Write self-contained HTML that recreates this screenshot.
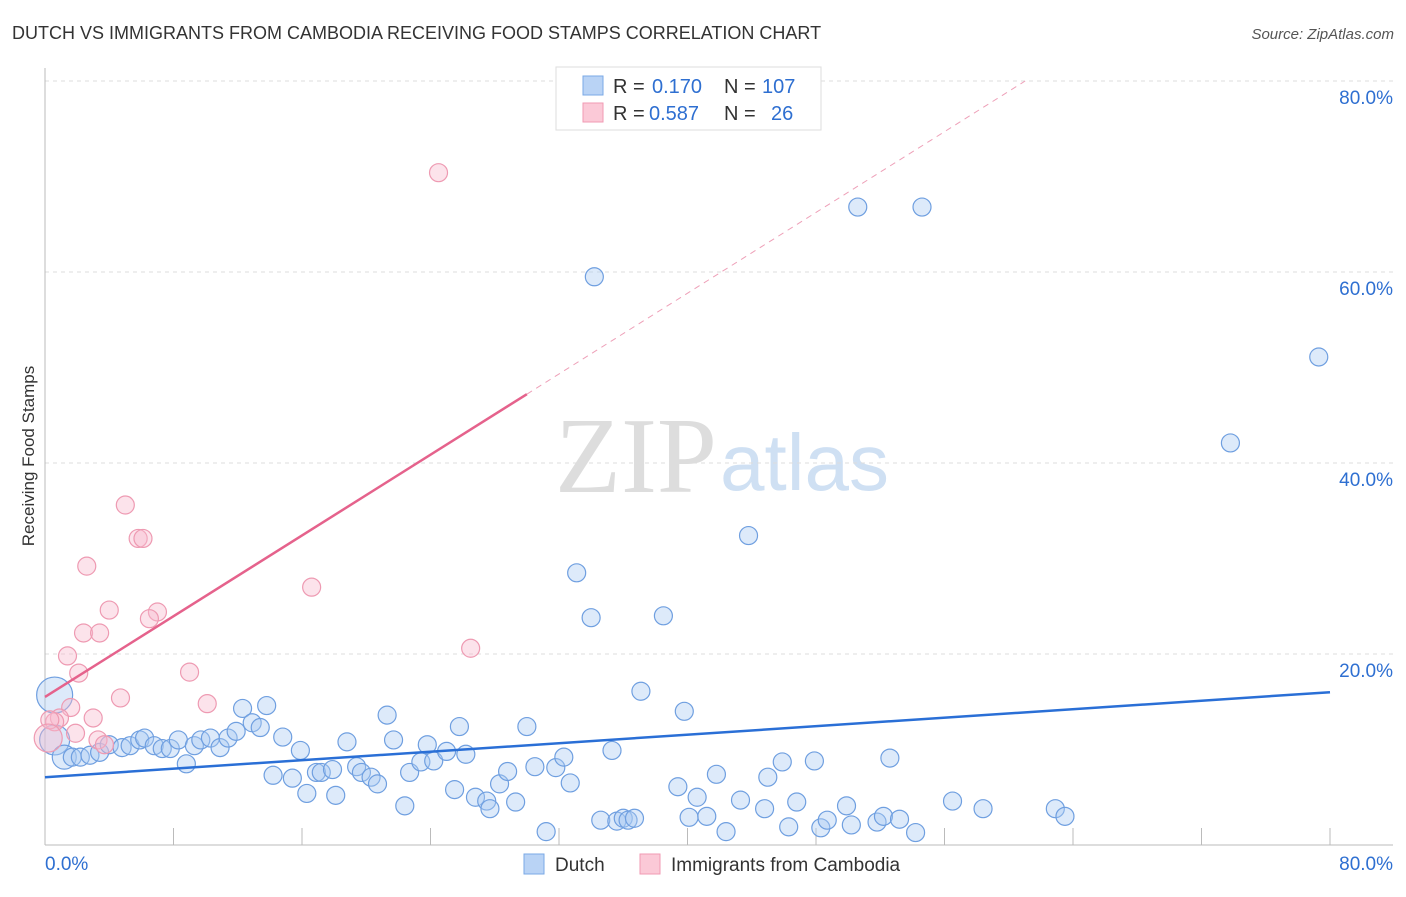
<!DOCTYPE html>
<html><head><meta charset="utf-8"><style>
body{margin:0;background:#fff;font-family:"Liberation Sans",sans-serif;}
svg text{font-family:"Liberation Sans",sans-serif;}
</style></head><body>
<svg id="chart" width="1406" height="892" viewBox="0 0 1406 892">
<text x="12" y="39" font-size="18" fill="#333">DUTCH VS IMMIGRANTS FROM CAMBODIA RECEIVING FOOD STAMPS CORRELATION CHART</text>
<text x="1394" y="39" font-size="15" fill="#555" font-style="italic" text-anchor="end">Source: ZipAtlas.com</text>
<text transform="translate(34,456) rotate(-90)" font-size="17" fill="#333" text-anchor="middle">Receiving Food Stamps</text>
<g>
<text x="555" y="492" font-size="108" fill="#ddd" style="font-family:'Liberation Serif',serif">ZIP</text>
<text x="720" y="490" font-size="80" fill="#cfe0f3">atlas</text>
</g>
<g id="grid"></g>
<g id="axes"></g>
<g id="marks"></g>
<g>
<rect x="556" y="67" width="265" height="63" fill="#fff" stroke="#ddd"/>
<rect x="583" y="76" width="20" height="19" fill="#b9d3f5" stroke="#7aa8e6"/>
<rect x="583" y="103" width="20" height="19" fill="#fbc9d7" stroke="#f09ab3"/>
<text x="613" y="93" font-size="20" fill="#333">R =</text>
<text x="652" y="93" font-size="20" fill="#2e6fd1">0.170</text>
<text x="724" y="93" font-size="20" fill="#333">N =</text>
<text x="762" y="93" font-size="20" fill="#2e6fd1">107</text>
<text x="613" y="120" font-size="20" fill="#333">R =</text>
<text x="649" y="120" font-size="20" fill="#2e6fd1">0.587</text>
<text x="724" y="120" font-size="20" fill="#333">N =</text>
<text x="771" y="120" font-size="20" fill="#2e6fd1">26</text>
</g>
<g>
<rect x="524" y="854" width="20" height="20" fill="#b9d3f5" stroke="#7aa8e6"/>
<text x="555" y="871" font-size="19" fill="#333">Dutch</text>
<rect x="640" y="854" width="20" height="20" fill="#fbc9d7" stroke="#f09ab3"/>
<text x="671" y="871" font-size="19" fill="#333">Immigrants from Cambodia</text>
</g>
</svg>
<script>
const yTicks=[20,40,60,80];
const yTickLabels=["20.0%","40.0%","60.0%","80.0%"];
const xTickLabels=["0.0%","80.0%"];
const dutchX=[79.3,73.8,50.6,54.6,34.2,43.8,33.1,34.0,38.5,37.1,39.8,0.6,0.6,1.2,1.7,2.2,2.8,3.4,4.0,4.8,5.3,5.9,6.2,6.8,7.3,7.8,8.3,8.8,9.3,9.7,10.3,10.9,11.4,11.9,12.3,12.9,13.4,13.8,14.8,14.2,15.4,15.9,16.3,16.9,17.2,17.9,18.1,18.8,19.4,19.7,20.3,20.7,21.3,21.7,22.4,22.7,23.4,23.8,24.2,25.0,25.5,25.8,26.2,26.8,27.5,27.7,28.3,28.8,29.3,30.0,30.5,31.2,31.8,32.3,32.7,34.6,35.3,35.6,36.0,36.3,36.7,39.4,40.1,40.6,41.2,41.8,42.4,43.3,45.0,44.8,45.9,46.3,46.8,47.9,48.3,48.7,49.9,50.2,51.8,52.2,52.6,53.2,54.2,56.5,58.4,62.9,63.5];
const dutchY=[51.1,42.1,66.8,66.8,59.5,32.4,28.5,23.8,24.0,16.1,14.0,15.7,11.0,9.2,9.2,9.2,9.4,9.7,10.5,10.2,10.4,11.0,11.2,10.4,10.1,10.1,11.0,8.5,10.4,11.0,11.2,10.2,11.2,11.9,14.3,12.8,12.3,14.6,11.3,7.3,7.0,9.9,5.4,7.6,7.6,7.9,5.2,10.8,8.2,7.6,7.1,6.4,13.6,11.0,4.1,7.6,8.7,10.5,8.8,9.8,5.8,12.4,9.5,5.0,4.6,3.8,6.4,7.7,4.5,12.4,8.2,1.4,8.1,9.2,6.5,2.6,9.9,2.5,2.8,2.6,2.8,6.1,2.9,5.0,3.0,7.4,1.4,4.7,7.1,3.8,8.7,1.9,4.5,8.8,1.8,2.6,4.1,2.1,2.4,3.0,9.1,2.7,1.3,4.6,3.8,3.8,3.0];
const dutchSize=[];dutchSize[11]=18;dutchSize[12]=15;dutchSize[13]=12;
const cambX=[24.5,5.0,5.8,6.1,2.6,16.6,4.0,7.0,6.5,2.4,3.4,1.4,2.1,9.0,26.5,4.7,10.1,1.6,3.0,0.9,0.6,0.3,3.3,1.9,3.7,0.2];
const cambY=[70.4,35.6,32.1,32.1,29.2,27.0,24.6,24.4,23.7,22.2,22.2,19.8,18.0,18.1,20.6,15.4,14.8,14.4,13.3,13.3,12.9,13.1,11.0,11.7,10.5,11.2];
const cambSize=[];cambSize[25]=14;
const dutchTrend=[7.1,16.0];
const cambTrend=[15.5,1.057];
const NS="http://www.w3.org/2000/svg";
const X0=45,X1=1330,Y0=845,Y80=81;
const sx=v=>X0+(X1-X0)*v/80, sy=v=>Y0-(Y0-Y80)*v/80;
function mk(tag,attrs,parent){const e=document.createElementNS(NS,tag);for(const k in attrs)e.setAttribute(k,attrs[k]);document.getElementById(parent).appendChild(e);return e;}
yTicks.forEach((t,i)=>{
 const g=mk('line',{x1:X0,x2:1393,y1:sy(t),y2:sy(t),stroke:'#ddd','stroke-dasharray':'4,4'},'grid');
 
 
 const l=mk('text',{x:1393,y:sy(t)+23,'font-size':19,fill:'#2e6fd1','text-anchor':'end'},'axes');
 l.textContent=yTickLabels[i];
 
 
});
let a=mk('line',{x1:X0,x2:X0,y1:68,y2:Y0,stroke:'#bbb'},'axes');


a=mk('line',{x1:X0,x2:1393,y1:Y0,y2:Y0,stroke:'#bbb'},'axes');


for(let i=0;i<=10;i++){const tk=mk('line',{x1:sx(i*8),x2:sx(i*8),y1:828,y2:Y0,stroke:'#bbb'},'axes');
 
 }
let xl=mk('text',{x:45,y:870,'font-size':19,fill:'#2e6fd1'},'axes');xl.textContent=xTickLabels[0];


xl=mk('text',{x:1393,y:870,'font-size':19,fill:'#2e6fd1','text-anchor':'end'},'axes');xl.textContent=xTickLabels[1];


dutchX.forEach((x,i)=>{const c=mk('circle',{cx:sx(x),cy:sy(dutchY[i]),r:dutchSize[i]||9,fill:'rgba(170,202,242,0.4)',stroke:'#6f9fe0','stroke-width':1.2},'marks');
 
 });
cambX.forEach((x,i)=>{const c=mk('circle',{cx:sx(x),cy:sy(cambY[i]),r:cambSize[i]||9,fill:'rgba(248,185,205,0.4)',stroke:'#ee9ab2','stroke-width':1.2},'marks');
 
 });
let t=mk('line',{x1:sx(0),y1:sy(dutchTrend[0]),x2:sx(80),y2:sy(dutchTrend[1]),stroke:'#2a6fd6','stroke-width':2.5},'marks');


const xs=30,xe=(80-cambTrend[0])/cambTrend[1];
t=mk('line',{x1:sx(0),y1:sy(cambTrend[0]),x2:sx(xs),y2:sy(cambTrend[0]+cambTrend[1]*xs),stroke:'#e5628c','stroke-width':2.5},'marks');


t=mk('line',{x1:sx(xs),y1:sy(cambTrend[0]+cambTrend[1]*xs),x2:sx(xe),y2:sy(80),stroke:'#eea0b8','stroke-width':1,'stroke-dasharray':'6,5'},'marks');


</script>
</body></html>
